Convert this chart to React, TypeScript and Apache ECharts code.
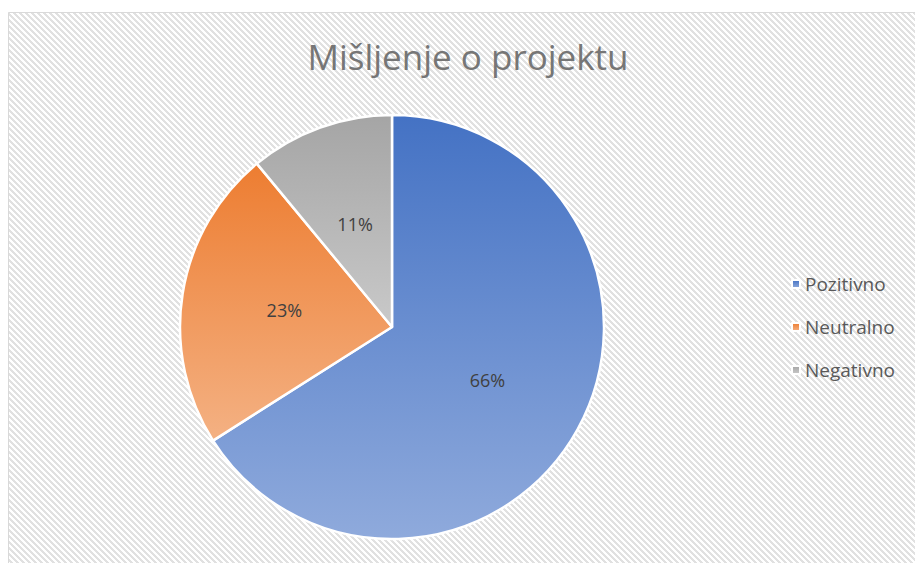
import React, { useEffect, useRef } from "react";
import * as echarts from "echarts";

const titleText = "Mišljenje o projektu";
const categories = ["Pozitivno", "Neutralno", "Negativno"];
const values = [66, 23, 11];
const topColors = ["#4472C4", "#ED7D31", "#A5A5A5"];
const bottomColors = ["#8FAADC", "#F4B183", "#C9C9C9"];

function makePattern(): HTMLCanvasElement {
  const size = 6;
  const c = document.createElement("canvas");
  c.width = size;
  c.height = size;
  const ctx = c.getContext("2d") as CanvasRenderingContext2D;
  ctx.fillStyle = "#ffffff";
  ctx.fillRect(0, 0, size, size);
  ctx.fillStyle = "#e1e1e1";
  for (let y = 0; y < size; y++) {
    for (let x = 0; x < size; x++) {
      if ((((x - y) % size) + size) % size < 3) ctx.fillRect(x, y, 1, 1);
    }
  }
  return c;
}

export default function App() {
  const ref = useRef<HTMLDivElement>(null);
  useEffect(() => {
    if (!ref.current) return;
    const chart = echarts.init(ref.current, null, { renderer: "svg" });
    const pattern = makePattern();
    const font = "'Open Sans', Lato, sans-serif";
    chart.setOption({
      animation: false,
      backgroundColor: "#ffffff",
      graphic: {
        elements: [
          {
            type: "rect",
            z: -100,
            silent: true,
            shape: { x: 8.5, y: 12.5, width: 920, height: 570 },
            style: {
              fill: { image: pattern, repeat: "repeat", imageWidth: 6, imageHeight: 6 },
              stroke: "#d9d9d9",
              lineWidth: 1,
            },
          },
        ],
      },
      title: {
        text: titleText,
        left: 468,
        top: 39,
        textAlign: "center",
        padding: 0,
        textStyle: {
          fontFamily: font,
          fontSize: 35,
          fontWeight: "normal",
          color: "#767676",
        },
      },
      legend: {
        orient: "vertical",
        left: 791,
        top: 274,
        padding: 0,
        itemWidth: 8,
        itemHeight: 8,
        itemGap: 23,
        icon: "rect",
        selectedMode: false,
        data: categories,
        textStyle: {
          fontFamily: font,
          fontSize: 19,
          color: "#595959",
          lineHeight: 20,
        },
      },
      series: [
        {
          type: "pie",
          center: [392, 327],
          radius: 212,
          startAngle: 90,
          clockwise: true,
          avoidLabelOverlap: false,
          emphasis: { disabled: true },
          label: {
            show: true,
            position: "inside",
            formatter: "{c}%",
            fontFamily: font,
            fontSize: 18,
            color: "#404040",
          },
          labelLine: { show: false },
          itemStyle: { borderColor: "#ffffff", borderWidth: 2.5 },
          data: categories.map((name, i) => ({
            name,
            value: values[i],
            itemStyle: {
              color: new echarts.graphic.LinearGradient(0, 0, 0, 1, [
                { offset: 0, color: topColors[i] },
                { offset: 1, color: bottomColors[i] },
              ]),
            },
          })),
        },
      ],
    });
    return () => chart.dispose();
  }, []);
  return (
    <div
      ref={ref}
      style={{ position: "fixed", left: 0, top: 0, width: 915, height: 563 }}
    />
  );
}
